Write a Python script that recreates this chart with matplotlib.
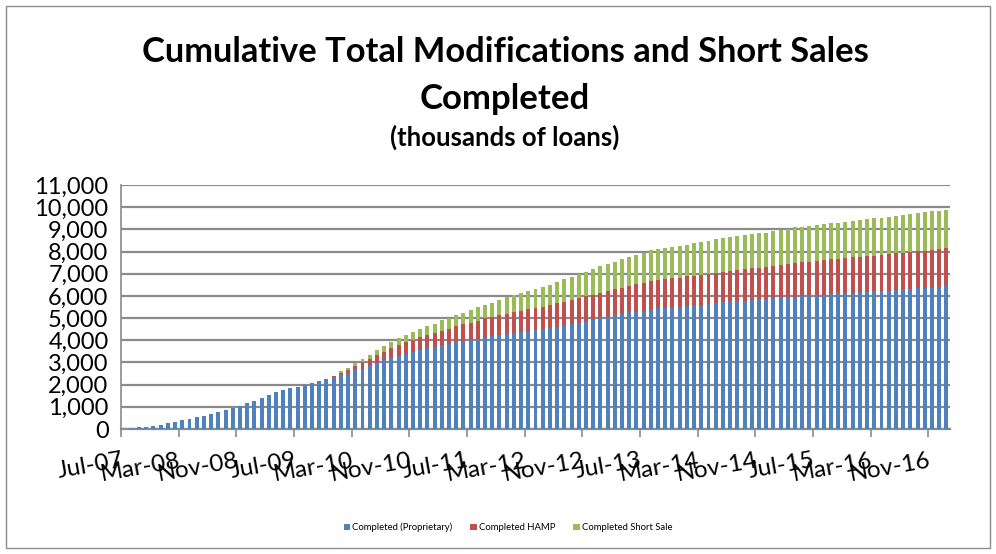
import matplotlib
matplotlib.use("Agg")
import matplotlib.pyplot as plt
from matplotlib.patches import Rectangle
from matplotlib.ticker import FuncFormatter
import numpy as np
import pandas as pd

months = pd.date_range("2007-07-01", periods=115, freq="MS").strftime("%b-%y").tolist()

proprietary = [
    5, 30, 70, 105, 150, 195, 255, 315, 390, 455,
    520, 590, 660, 750, 840, 930, 1030, 1155, 1275, 1410,
    1530, 1650, 1755, 1830, 1905, 1995, 2085, 2160, 2235, 2330,
    2420, 2510, 2650, 2720, 2850, 2970, 3090, 3190, 3310, 3400,
    3490, 3570, 3640, 3720, 3780, 3840, 3910, 3990, 4000, 4060,
    4100, 4180, 4240, 4280, 4340, 4370, 4420, 4450, 4490, 4540,
    4590, 4670, 4730, 4800, 4860, 4920, 5000, 5060, 5140, 5180,
    5260, 5290, 5330, 5420, 5450, 5470, 5500, 5510, 5540, 5590,
    5610, 5640, 5690, 5720, 5750, 5790, 5790, 5820, 5840, 5880,
    5910, 5930, 5960, 5970, 6000, 6030, 6030, 6050, 6080, 6110,
    6120, 6140, 6170, 6200, 6210, 6230, 6240, 6270, 6300, 6320,
    6350, 6380, 6380, 6390, 6440,
]
hamp = [
    0, 0, 0, 0, 0, 0, 0, 0, 0, 0,
    0, 0, 0, 0, 0, 0, 0, 0, 0, 0,
    0, 0, 0, 0, 0, 0, 0, 0, 20, 60,
    120, 150, 200, 280, 310, 370, 400, 450, 480, 530,
    520, 580, 600, 620, 650, 680, 720, 730, 790, 820,
    890, 860, 880, 910, 940, 970, 1000, 1010, 1020, 1040,
    1090, 1070, 1080, 1100, 1130, 1120, 1130, 1160, 1170, 1200,
    1200, 1230, 1250, 1250, 1250, 1300, 1300, 1320, 1340, 1330,
    1350, 1360, 1340, 1340, 1360, 1360, 1410, 1420, 1430, 1420,
    1440, 1460, 1460, 1510, 1530, 1510, 1540, 1550, 1570, 1550,
    1590, 1600, 1600, 1600, 1590, 1610, 1650, 1650, 1650, 1660,
    1660, 1660, 1700, 1710, 1710,
]
short_sale = [
    0, 0, 0, 0, 0, 0, 0, 0, 0, 0,
    0, 0, 0, 0, 0, 0, 0, 0, 0, 0,
    0, 0, 0, 0, 0, 0, 0, 0, 0, 10,
    60, 90, 120, 150, 180, 210, 260, 270, 300, 290,
    350, 340, 390, 390, 470, 490, 490, 520, 570, 600,
    610, 660, 700, 740, 750, 780, 790, 870, 890, 930,
    960, 1020, 1040, 1070, 1100, 1190, 1220, 1220, 1230, 1270,
    1290, 1320, 1370, 1380, 1430, 1390, 1420, 1430, 1430, 1460,
    1470, 1490, 1520, 1550, 1530, 1550, 1560, 1550, 1560, 1560,
    1570, 1590, 1620, 1610, 1600, 1620, 1620, 1630, 1630, 1650,
    1640, 1660, 1660, 1670, 1700, 1690, 1670, 1690, 1690, 1710,
    1720, 1750, 1760, 1740, 1740,
]
tick_labels = ["Jul-07", "Mar-08", "Nov-08", "Jul-09", "Mar-10", "Nov-10", "Jul-11",
               "Mar-12", "Nov-12", "Jul-13", "Mar-14", "Nov-14", "Jul-15", "Mar-16", "Nov-16"]
series_names = ["Completed (Proprietary)", "Completed HAMP", "Completed Short Sale"]
colors = ["#4F81BD", "#C0504D", "#9BBB59"]

FONT = ["Lato", "DejaVu Sans"]
plt.rcParams["font.family"] = FONT

fig = plt.figure(figsize=(9.96, 5.54), dpi=100)
fig.patches.append(Rectangle((0.006, 0.01), 0.988, 0.98, transform=fig.transFigure,
                             fill=False, edgecolor="#8c8c8c", lw=1.0))
ax = fig.add_axes([0.1215, 0.2256, 0.8323, 0.4404])

x = np.arange(len(months))
p = np.array(proprietary)
h = np.array(hamp)
s = np.array(short_sale)
w = 0.55
ax.bar(x, p, width=w, color=colors[0], label=series_names[0], zorder=3)
ax.bar(x, h, width=w, bottom=p, color=colors[1], label=series_names[1], zorder=3)
ax.bar(x, s, width=w, bottom=p + h, color=colors[2], label=series_names[2], zorder=3)

ax.set_xlim(-0.5, len(months) - 0.5)
ax.set_ylim(0, 11000)
ax.set_yticks(np.arange(0, 11001, 1000))
ax.yaxis.set_major_formatter(FuncFormatter(lambda v, _: f"{int(v):,}"))
ax.grid(axis="y", color="#8a8a8a", lw=1.6, zorder=0)
ax.set_axisbelow(True)

tick_pos = [months.index(t) - 0.5 for t in tick_labels]
ax.set_xticks(tick_pos)
ax.set_xticklabels(tick_labels, rotation=10, ha="right", rotation_mode="anchor",
                   fontsize=17.5)
for lab in ax.get_xticklabels():
    lab.set_va("top")
ax.tick_params(axis="x", length=6, width=1.2, color="#8a8a8a", pad=9)
ax.tick_params(axis="y", length=0, labelsize=17, pad=9)

for sp in ["top", "right"]:
    ax.spines[sp].set_visible(False)
ax.spines["left"].set_color("#8a8a8a")
ax.spines["left"].set_linewidth(1.2)
ax.spines["bottom"].set_color("#8a8a8a")
ax.spines["bottom"].set_linewidth(1.6)

fig.text(0.507, 0.907, "Cumulative Total Modifications and Short Sales", ha="center", va="center",
         fontsize=24.8, fontweight="bold")
fig.text(0.507, 0.822, "Completed", ha="center", va="center", fontsize=25, fontweight="bold")
fig.text(0.507, 0.753, "(thousands of loans)", ha="center", va="center", fontsize=18.5,
         fontweight="bold")

leg = fig.legend(loc="center", bbox_to_anchor=(0.51, 0.048), ncol=3, frameon=False,
                 fontsize=6.8, handlelength=0.7, handleheight=0.7, handletextpad=0.2,
                 columnspacing=1.9)

fig.savefig("out.png", dpi=100)
